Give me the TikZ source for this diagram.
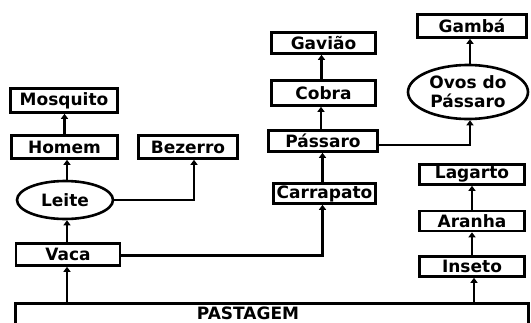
\documentclass[tikz,border=0pt]{standalone}
\usepackage{fontspec}
\setmainfont{DejaVu Sans}
\usetikzlibrary{arrows.meta,shapes.geometric}
\begin{document}
\begin{tikzpicture}[x=1pt,y=-1pt,
  lbl/.style={font=\bfseries\fontsize{17}{19}\selectfont},
  box/.style={draw,line width=2.6pt,inner sep=0pt,lbl,rectangle},
  oval/.style={draw,line width=2.6pt,inner sep=0pt,lbl,ellipse,align=center},
  arr/.style={line width=2.6pt,-{Triangle[width=7pt,length=5pt]}}]
\useasboundingbox (0,0) rectangle (531,322);
\clip (0,0) rectangle (531,322);
\node[box,minimum width=107pt,minimum height=24pt] (mosquito) at (64,100.5) {Mosquito};
\node[box,minimum width=106pt,minimum height=23pt] (homem) at (64.5,147) {Homem};
\node[box,minimum width=99pt,minimum height=23pt] (bezerro) at (188,147) {Bezerro};
\node[oval,minimum width=96pt,minimum height=38pt] (leite) at (65,200) {Leite};
\node[box,minimum width=104pt,minimum height=22pt] (vaca) at (68,254.5) {Vaca};
\node[box,minimum width=104pt,minimum height=21pt] (gaviao) at (323.5,43) {Gavião};
\node[box,minimum width=104pt,minimum height=25pt] (cobra) at (323.5,93) {Cobra};
\node[box,minimum width=109pt,minimum height=21pt] (passaro) at (323,141) {Pássaro};
\node[box,minimum width=109pt,minimum height=23pt] (gamba) at (472,26) {Gambá};
\node[oval,minimum width=120pt,minimum height=54pt] (ovos) at (468,92) {Ovos do\\Pássaro};
\node[box,minimum width=102pt,minimum height=20pt] (carrapato) at (324.5,193.5) {Carrapato};
\node[box,minimum width=105pt,minimum height=20pt] (lagarto) at (472,174.5) {Lagarto};
\node[box,minimum width=105pt,minimum height=20pt] (aranha) at (472,221) {Aranha};
\node[box,minimum width=105pt,minimum height=20pt] (inseto) at (472,266.5) {Inseto};
\node[box,minimum width=513pt,minimum height=40pt,anchor=north west] (pastagem) at (14,302) {};
\node[lbl,anchor=base,inner sep=0pt] (ptxt) at (248,319) {PASTAGEM};
% connectors
\draw[arr] (pastagem.north -| vaca.south) ++(-1,0) coordinate (p1) -- (p1 |- vaca.south);
\draw[arr] ([xshift=-1pt]vaca.north) -- ([xshift=-1pt]vaca.north |- leite.south);
\draw[arr] ([xshift=2pt]leite.north) -- ([xshift=2pt]leite.north |- homem.south);
\draw[arr] (homem.north) -- (homem.north |- mosquito.south);
\draw[arr] (leite.east) -| ([xshift=6pt]bezerro.south);
\draw[arr] ([yshift=-1pt]vaca.east) -| ([xshift=-2pt]carrapato.south);
\draw[arr] ([xshift=-2pt]carrapato.north) -- ([xshift=-2pt]carrapato.north |- passaro.south);
\draw[arr] ([xshift=-2pt]passaro.north) -- ([xshift=-2pt]passaro.north |- cobra.south);
\draw[arr] ([xshift=-2pt]cobra.north) -- ([xshift=-2pt]cobra.north |- gaviao.south);
\draw[arr] ([yshift=-4pt]passaro.east) -| ([xshift=2pt]ovos.south);
\draw[arr] ([xshift=2pt]ovos.north) -- ([xshift=2pt]ovos.north |- gamba.south);
\draw[arr] (pastagem.north -| inseto.south) ++(2,0) coordinate (p2) -- (p2 |- inseto.south);
\draw[arr] (inseto.north) -- (aranha.south);
\draw[arr] (aranha.north) -- (lagarto.south);
\end{tikzpicture}
\end{document}
